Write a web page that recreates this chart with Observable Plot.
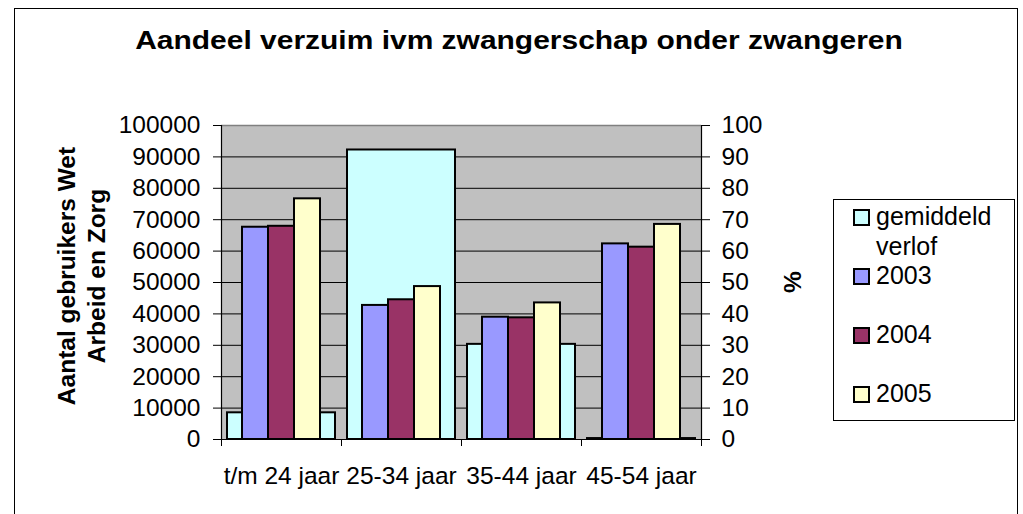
<!DOCTYPE html>
<html>
<head>
<meta charset="utf-8">
<script src="https://cdn.jsdelivr.net/npm/d3@7"></script>
<script src="https://cdn.jsdelivr.net/npm/@observablehq/plot@0.6"></script>
<style>
  body { margin: 0; background: #fff; }
  #wrap { position: relative; width: 1023px; height: 514px; overflow: hidden; background: #fff;
          font-family: "Liberation Sans", Arial, sans-serif; color: #000; }
  #wrap svg { position: absolute; left: 0; top: 0; }
  #border { position: absolute; left: 14px; top: 8px; width: 1004px; height: 540px;
            border: 1.5px solid #000; box-sizing: border-box; pointer-events: none; }
  #title { position: absolute; left: 519px; top: 25px; font-size: 25.5px; font-weight: bold; line-height: 30px;
           white-space: nowrap; transform: translateX(-50%) scaleX(1.175); }
  .ylab { position: absolute; font-weight: bold; font-size: 24.5px; line-height: 30px; text-align: center;
          transform: rotate(-90deg); white-space: nowrap; }
  #legend { position: absolute; left: 833px; top: 199px; width: 182px; height: 222px;
            border: 1px solid #000; box-sizing: border-box; padding-top: 2px; background: #fff; }
  .item { display: flex; align-items: flex-start; height: 59px; font-size: 25px; line-height: 29.5px; }
  .sw { width: 17px; height: 17px; box-sizing: border-box; border: 2px solid #000; margin: 7px 6px 0 19px; flex: none; }
</style>
</head>
<body>
<div id="wrap"></div>
<script>
// ---- data ----
const categories = ["t/m 24 jaar", "25-34 jaar", "35-44 jaar", "45-54 jaar"];
const years = ["2003", "2004", "2005"];
const values2003 = [67600, 42700, 38950, 62300];
const values2004 = [67900, 44500, 38750, 61250];
const values2005 = [76650, 48700, 43500, 68500];
const verlofPct = [8.5, 92.2, 30.3, 0.3];          // "gemiddeld verlof", right axis (%)
const yTicks = [0, 10000, 20000, 30000, 40000, 50000, 60000, 70000, 80000, 90000, 100000];
const pctTicks = [0, 10, 20, 30, 40, 50, 60, 70, 80, 90, 100];
const legendLabels = ["gemiddeld verlof", "2003", "2004", "2005"];
const titleText = "Aandeel verzuim ivm zwangerschap onder zwangeren";
const yLabelLeft = ["Aantal gebruikers Wet", "Arbeid en Zorg"];
const yLabelRight = "%";

// ---- styles ----
const verlofColor = "#CCFFFF";
const yearColors = ["#9999FF", "#993366", "#FFFFCC"];
const plotBg = "#C0C0C0";

// ---- build ----
const W = 1023, H = 514;
const mL = 221, mR = 322, mT = 125, mB = 75;
const bw = (W - mL - mR) / categories.length;
const countPerPct = yTicks[yTicks.length - 1] / pctTicks[pctTicks.length - 1];

const seriesValues = [values2003, values2004, values2005];
const rows = [];
categories.forEach((c, i) => years.forEach((y, j) => rows.push({cat: c, year: y, value: seriesValues[j][i]})));
const verlofRows = categories.map((c, i) => ({cat: c, pct: verlofPct[i]}));

const chart = Plot.plot({
  width: W, height: H,
  marginLeft: mL, marginRight: mR, marginTop: mT, marginBottom: mB,
  style: {fontFamily: "'Liberation Sans', Arial, sans-serif", fontSize: "24.5px", color: "#000", background: "transparent", overflow: "visible"},
  fx: {domain: categories, padding: 0, label: null},
  x: {domain: years, paddingInner: 0, paddingOuter: 0.75, axis: null},
  y: {domain: [0, yTicks[yTicks.length - 1]], label: null},
  color: {domain: years, range: yearColors},
  marks: [
    Plot.frame({fill: plotBg, stroke: null, facet: "super"}),
    Plot.ruleY(yTicks.slice(1, -1), {stroke: "#000", strokeWidth: 1}),
    Plot.ruleY([yTicks[yTicks.length - 1]], {stroke: "#808080", strokeWidth: 1.5}),
    Plot.rectY(verlofRows, {fx: "cat", y: d => d.pct * countPerPct, fill: verlofColor, stroke: "#000", strokeWidth: 2, insetLeft: 6, insetRight: 6}),
    Plot.barY(rows, {fx: "cat", x: "year", y: "value", fill: "year", stroke: "#000", strokeWidth: 2}),
    Plot.ruleY([0], {stroke: "#000", strokeWidth: 1.2}),
    Plot.frame({anchor: "left", facetAnchor: "left", stroke: "#000", strokeWidth: 1.2}),
    Plot.frame({anchor: "right", facetAnchor: "right", stroke: "#000", strokeWidth: 1.2}),
    Plot.axisY({anchor: "left", ticks: yTicks, tickSize: 8, tickPadding: 13, tickFormat: d => String(d), label: null, fontSize: 24.5}),
    Plot.axisY({anchor: "right", ticks: yTicks, tickSize: 8, tickPadding: 12, tickFormat: d => String(pctTicks[yTicks.indexOf(d)]), label: null, fontSize: 24.5}),
    Plot.axisFx({anchor: "bottom", tickSize: 0, tickPadding: 27, label: null, fontSize: 24.5}),
    Plot.axisFx({anchor: "bottom", tickSize: 7, tickFormat: () => "", dx: -bw / 2, label: null}),
    Plot.axisFx({anchor: "bottom", ticks: [categories[categories.length - 1]], tickSize: 7, tickFormat: () => "", dx: bw / 2, label: null})
  ]
});

const wrap = document.getElementById("wrap");
wrap.appendChild(chart);

// border
const border = document.createElement("div");
border.id = "border";
wrap.appendChild(border);

// title
const title = document.createElement("div");
title.id = "title";
title.textContent = titleText;
wrap.appendChild(title);

// left axis label (two lines, rotated)
const yl = document.createElement("div");
yl.className = "ylab";
yl.style.width = "300px"; yl.style.height = "60px";
yl.style.left = (82 - 150) + "px"; yl.style.top = (276 - 30) + "px";
yl.innerHTML = yLabelLeft.map(s => `<div>${s}</div>`).join("");
wrap.appendChild(yl);

// right axis label
const yr = document.createElement("div");
yr.className = "ylab";
yr.style.width = "40px"; yr.style.height = "30px";
yr.style.left = (793 - 20) + "px"; yr.style.top = (282 - 15) + "px";
yr.textContent = yLabelRight;
wrap.appendChild(yr);

// legend
const legend = document.createElement("div");
legend.id = "legend";
const legendColors = [verlofColor, ...yearColors];
legendLabels.forEach((lab, i) => {
  const it = document.createElement("div");
  it.className = "item";
  const sw = document.createElement("div");
  sw.className = "sw";
  sw.style.background = legendColors[i];
  const tx = document.createElement("div");
  tx.textContent = lab;
  if (i === 0) tx.style.width = "120px";
  it.appendChild(sw); it.appendChild(tx);
  legend.appendChild(it);
});
wrap.appendChild(legend);
</script>
</body>
</html>
